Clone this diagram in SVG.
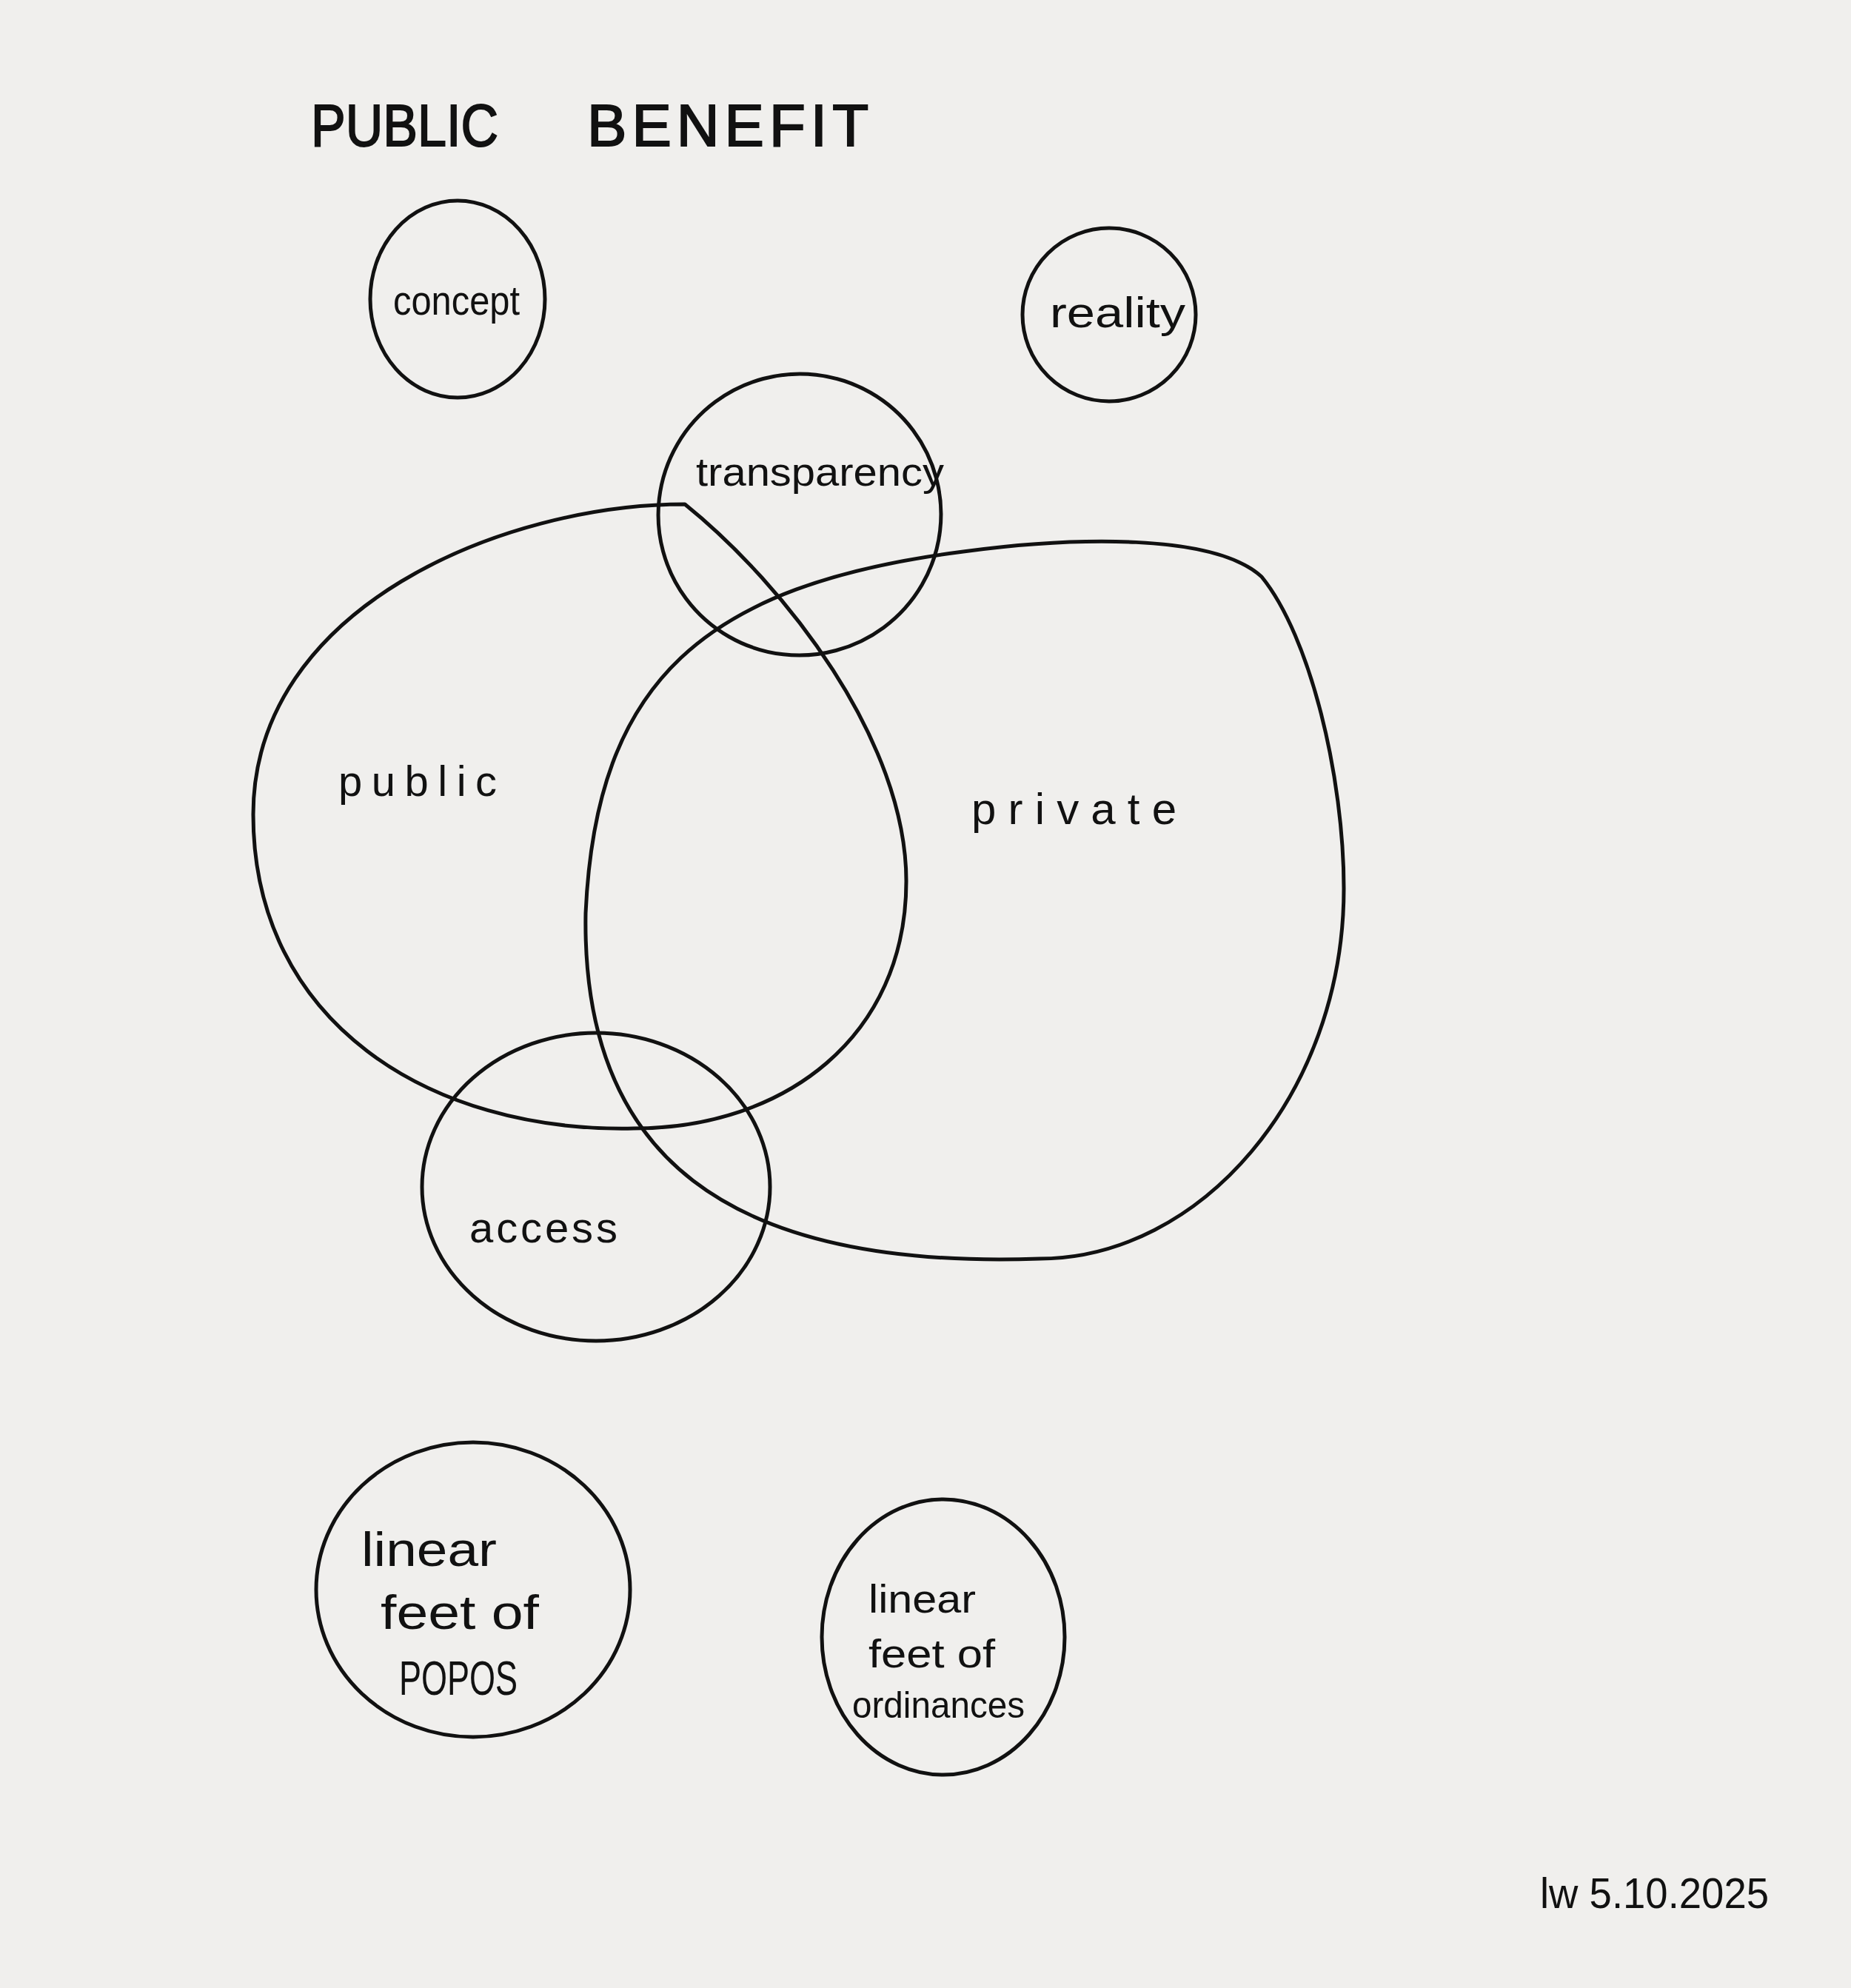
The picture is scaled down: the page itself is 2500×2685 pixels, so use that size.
<svg xmlns="http://www.w3.org/2000/svg" width="2500" height="2685" viewBox="0 0 2500 2685">
<style>
.shape{fill:none;stroke:#111;stroke-width:5;stroke-linecap:round;stroke-linejoin:round}
.label{font-family:"Liberation Sans","DejaVu Sans",sans-serif;fill:#111}
.title{font-family:"Liberation Sans","DejaVu Sans",sans-serif;fill:#111;font-size:80px;stroke:#111;stroke-width:2}
</style>
<rect x="0" y="0" width="2500" height="2685" fill="#f0efed"/>
<g id="title">
<text class="title" x="420" y="197" textLength="253" lengthAdjust="spacingAndGlyphs">PUBLIC</text>
<text class="title" x="793" y="197" textLength="380" lengthAdjust="spacing">BENEFIT</text>
</g>
<g id="connectors"></g>
<g id="node-public">
<path class="shape" d="M925,681 C1060,790 1224,1000 1224,1190 C1224,1400 1060,1524 856,1524 C580,1530 342,1380 342,1100 C342,820 680,681 925,681 Z"/>
<text class="label" x="457" y="1075" font-size="58" textLength="214" lengthAdjust="spacing">public</text>
</g>
<g id="node-private">
<path class="shape" d="M791,1233 C805,920 950,790 1301,745 C1450,725 1640,720 1704,779 C1770,860 1815,1050 1815,1200 C1815,1480 1620,1700 1404,1700 C980,1715 785,1560 791,1233 Z"/>
<text class="label" x="1312" y="1113" font-size="60" textLength="277" lengthAdjust="spacing">private</text>
</g>
<g id="node-transparency">
<ellipse class="shape" cx="1080" cy="695" rx="191" ry="190" transform="rotate(-15 1080 695)"/>
<text class="label" x="940" y="656" font-size="54" textLength="335" lengthAdjust="spacingAndGlyphs">transparency</text>
</g>
<g id="node-access">
<ellipse class="shape" cx="805" cy="1603" rx="235" ry="208"/>
<text class="label" x="634" y="1678" font-size="58" textLength="200" lengthAdjust="spacing">access</text>
</g>
<g id="node-concept">
<ellipse class="shape" cx="618" cy="404" rx="118" ry="133"/>
<text class="label" x="531" y="425" font-size="56" textLength="171" lengthAdjust="spacingAndGlyphs">concept</text>
</g>
<g id="node-reality">
<ellipse class="shape" cx="1498" cy="425" rx="117" ry="117"/>
<text class="label" x="1418" y="442" font-size="58" textLength="183" lengthAdjust="spacingAndGlyphs">reality</text>
</g>
<g id="node-popos">
<ellipse class="shape" cx="639" cy="2147" rx="212" ry="199"/>
<text class="label" x="488" y="2115" font-size="64" textLength="183" lengthAdjust="spacingAndGlyphs">linear</text>
<text class="label" x="514" y="2200" font-size="64" textLength="214" lengthAdjust="spacingAndGlyphs">feet of</text>
<text class="label" x="539" y="2289" font-size="64" textLength="160" lengthAdjust="spacingAndGlyphs">POPOS</text>
</g>
<g id="node-ordinances">
<ellipse class="shape" cx="1274" cy="2211" rx="164" ry="186"/>
<text class="label" x="1173" y="2178" font-size="54" textLength="145" lengthAdjust="spacingAndGlyphs">linear</text>
<text class="label" x="1173" y="2252" font-size="54" textLength="171" lengthAdjust="spacingAndGlyphs">feet of</text>
<text class="label" x="1151" y="2320" font-size="50" textLength="233" lengthAdjust="spacingAndGlyphs">ordinances</text>
</g>
<g id="signature">
<text class="label" x="2080" y="2577" font-size="58" textLength="309" lengthAdjust="spacingAndGlyphs">lw 5.10.2025</text>
</g>
</svg>
